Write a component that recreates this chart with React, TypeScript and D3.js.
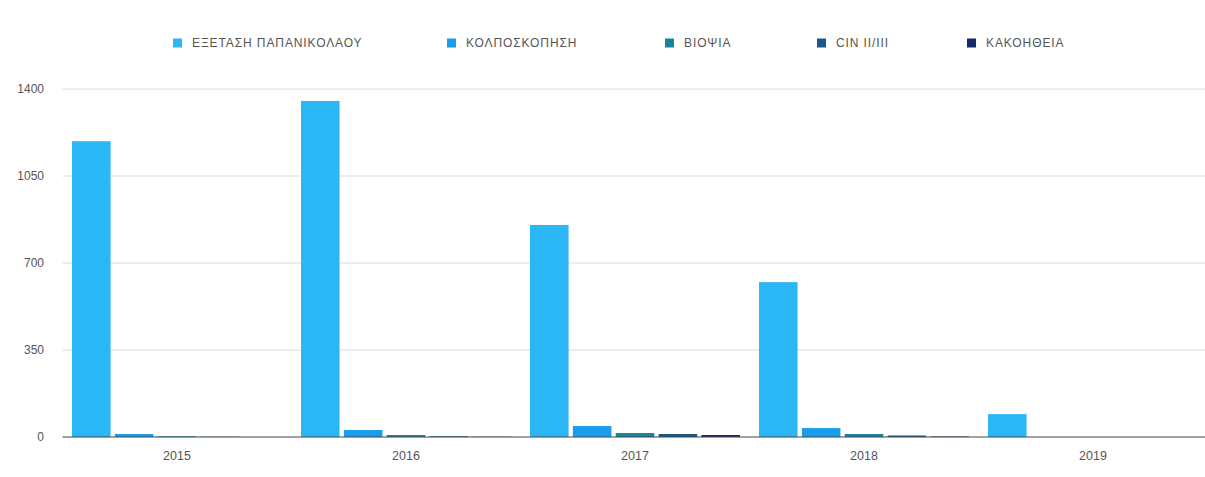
import React from "react";
import * as d3 from "d3";

const years = ["2015", "2016", "2017", "2018", "2019"];
const seriesNames = ["ΕΞΕΤΑΣΗ ΠΑΠΑΝΙΚΟΛΑΟΥ", "ΚΟΛΠΟΣΚΟΠΗΣΗ", "ΒΙΟΨΙΑ", "CIN II/III", "ΚΑΚΟΗΘΕΙΑ"];
const papValues = [1190, 1352, 853, 623, 92];
const colpoValues = [12, 28, 44, 36, 0];
const biopsyValues = [3, 8, 16, 12, 0];
const cinValues = [1, 3, 12, 6, 0];
const cancerValues = [0, 1, 8, 2, 0];
const seriesColors = ["#2bb7f6", "#1a9cec", "#14849f", "#19568a", "#16296b"];
const yTicks = [0, 350, 700, 1050, 1400];

const allSeries = [papValues, colpoValues, biopsyValues, cinValues, cancerValues];

export default function App() {
  const W = 1205, H = 477;
  const left = 62.5, right = 1207.5, top = 89, bottom = 437;
  const x = d3.scaleBand<string>().domain(years).range([left, right]).paddingInner(0).paddingOuter(0);
  const inner = d3.scaleBand<string>().domain(seriesNames).range([9.5, x.bandwidth() - 9.5]).paddingInner(0.1).paddingOuter(0);
  const y = d3.scaleLinear().domain([0, 1400]).range([bottom, top]);
  const legendX = [173, 447, 665, 817, 967];
  return (
    <svg width={W} height={H} style={{ position: "fixed", left: 0, top: 0, background: "#fff" }} fontFamily="Arial, 'Liberation Sans', sans-serif">
      {yTicks.map((t) => (
        <g key={t}>
          {t > 0 && <line x1={left} x2={1205} y1={y(t)} y2={y(t)} stroke="#dcdcdc" strokeWidth={1} />}
          <text x={44} y={y(t)} dy="0.35em" textAnchor="end" fontSize={12} fill="#555">{t}</text>
        </g>
      ))}
      {allSeries.map((vals, si) =>
        vals.map((v, i) => {
          const bx = (x(years[i]) as number) + (inner(seriesNames[si]) as number);
          return (
            <rect key={si + "-" + i} x={bx} y={y(v)} width={inner.bandwidth()} height={bottom - y(v)} fill={seriesColors[si]} />
          );
        })
      )}
      <line x1={left} x2={1205} y1={bottom} y2={bottom} stroke="#444" strokeWidth={1.2} />
      {years.map((yr) => (
        <text key={yr} x={(x(yr) as number) + x.bandwidth() / 2} y={456} dy="0.35em" textAnchor="middle" fontSize={12.5} fill="#555">{yr}</text>
      ))}
      {seriesNames.map((n, i) => (
        <g key={n} transform={`translate(${legendX[i]},43)`}>
          <rect x={0} y={-4.5} width={9} height={9} fill={seriesColors[i]} />
          <text x={19} y={0} dy="0.35em" fontSize={12} letterSpacing={0.9} fill="#555">{n}</text>
        </g>
      ))}
    </svg>
  );
}
